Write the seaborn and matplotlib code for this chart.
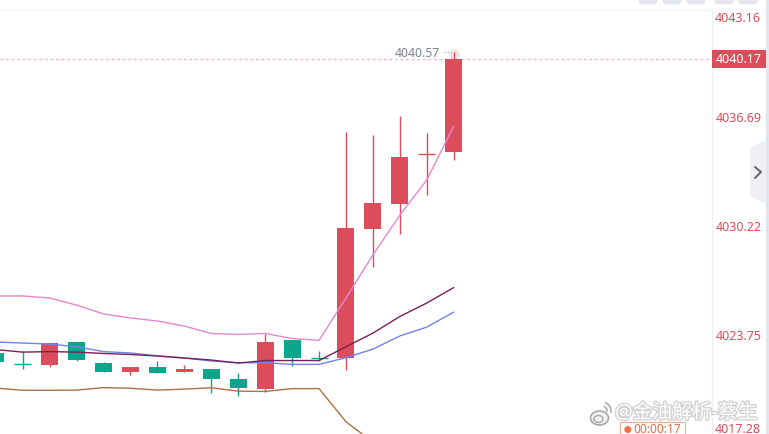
import matplotlib
matplotlib.use("Agg")
import matplotlib.pyplot as plt
import matplotlib.patheffects as pe
from matplotlib.patches import Rectangle, Polygon, FancyBboxPatch, Ellipse, Arc, Circle
import numpy as np
import pandas as pd
import seaborn as sns

# OHLC prices, oldest candle first
opens = [4022.13, 4021.99, 4021.97, 4023.32, 4022.07, 4021.53, 4021.83, 4021.53,
         4021.71, 4021.12, 4020.52, 4023.44, 4022.35, 4022.37, 4030.04, 4031.55,
         4034.49, 4034.64]
closes = [4022.67, 4021.99, 4023.26, 4022.25, 4021.53, 4021.83, 4021.47, 4021.71,
          4021.12, 4020.58, 4023.32, 4022.37, 4022.35, 4030.10, 4031.59, 4034.33,
          4034.49, 4040.17]
highs = [4022.67, 4022.78, 4023.26, 4023.32, 4022.13, 4021.83, 4022.22, 4021.95,
         4021.71, 4021.47, 4023.80, 4023.44, 4022.78, 4035.81, 4035.63, 4036.76,
         4035.75, 4040.57]
lows = [4022.13, 4021.73, 4021.85, 4022.19, 4021.53, 4021.36, 4021.47, 4021.53,
        4020.29, 4020.11, 4020.36, 4021.89, 4022.19, 4021.65, 4027.78, 4029.74,
        4032.06, 4034.15]
bearish = [True, True, False, True, True, False, True, False,
           True, True, False, True, True, False, False, False,
           False, False]

# Indicator overlays
upper_band = [4026.06, 4026.06, 4025.94, 4025.52, 4024.99, 4024.75, 4024.57, 4024.27,
              4023.83, 4023.77, 4023.83, 4023.53, 4023.42, 4025.94, 4028.50, 4030.87,
              4032.96, 4036.17]
fast_avg = [4023.32, 4023.26, 4023.20, 4023.04, 4022.75, 4022.67, 4022.50, 4022.37,
            4022.19, 4022.09, 4022.09, 4021.99, 4021.99, 4022.39, 4022.90, 4023.68,
            4024.21, 4025.10]
mid_band = [4022.87, 4022.72, 4022.75, 4022.72, 4022.64, 4022.58, 4022.49, 4022.37,
            4022.25, 4022.07, 4022.22, 4022.22, 4022.22, 4023.04, 4023.85, 4024.84,
            4025.64, 4026.56]
lower_band = [4020.58, 4020.45, 4020.45, 4020.46, 4020.61, 4020.57, 4020.46, 4020.52,
              4020.60, 4020.40, 4020.38, 4020.55, 4020.55, 4018.58, 4017.37]

visible_ticks = [4036.69, 4030.22, 4023.75]
top_tick = "4043.16"
bottom_tick = "4017.28"
last_price = 4040.17
peak_price = 4040.57

RED = "#DC4D5B"
GREEN = "#08A78B"
TICK_FONT = "Noto Sans"

sns.set_theme(style="white")
plt.rcParams["font.family"] = [TICK_FONT, "Noto Sans CJK SC", "DejaVu Sans"]

W, H = 769, 434
fig = plt.figure(figsize=(W / 100, H / 100), dpi=100, facecolor="white")
ax = fig.add_axes([0, 0, 711.5 / W, 424 / H])
ax.set_facecolor("white")

index = np.arange(len(opens))
candles = pd.DataFrame({"i": index, "o": opens, "c": closes, "h": highs, "l": lows,
                        "down": bearish})

# Candles: wicks first, bodies over them, flat candles as a single dash
for row in candles.itertuples():
    colour = GREEN if row.down else RED
    ax.vlines(row.i, row.l, row.h, color=colour, lw=1.0, zorder=2)
    if row.o == row.c:
        ax.hlines(row.c, row.i - 0.315, row.i + 0.315, color=colour, lw=1.0, zorder=3)
    else:
        ax.bar(row.i, abs(row.c - row.o), bottom=min(row.o, row.c), width=0.63,
               color=colour, linewidth=0, zorder=3)

# Indicator lines
overlays = [(upper_band, "#E487CF"), (fast_avg, "#6F83EE"),
            (mid_band, "#7A2152"), (lower_band, "#B26F45")]
for values, colour in overlays:
    sns.lineplot(x=index[:len(values)], y=values, ax=ax, color=colour, lw=1.0,
                 zorder=4, legend=False)

# Last-price guide
ax.axhline(last_price, color="#F7B5C4", lw=1.0, ls=(0, (2, 2)), zorder=1)

ax.set_xlim(0.156, 26.57)
ax.set_ylim(4017.85, 4043.07)
ax.set_xticks([])
ax.yaxis.tick_right()
ax.set_yticks(visible_ticks)
ax.set_yticklabels([f"{v:.2f}" for v in visible_ticks], color=RED, fontsize=9)
ax.tick_params(axis="y", length=0, pad=3.2)
for side in ("left", "bottom", "top"):
    ax.spines[side].set_visible(False)
ax.spines["right"].set_color("#EEF0F6")
ax.spines["right"].set_linewidth(1.0)

# Peak annotation on the last candle
ax.annotate(f"{peak_price:.2f}", xy=(16.5, peak_price), xytext=(0, -1.4),
            textcoords="offset points", ha="right", va="center",
            fontsize=8.8, color="#7C8290", zorder=6)
ax.scatter([17], [peak_price - 0.1], s=60, color="#F6C6CC", alpha=0.55, linewidths=0, zorder=1)

# Terminal chrome drawn in pixel coordinates
ui = fig.add_axes([0, 0, 1, 1], facecolor="none")
ui.set_xlim(0, W)
ui.set_ylim(H, 0)
ui.axis("off")

ui.plot([0, 711], [10, 10], color="#F6F6F8", lw=1.0)
ui.plot([443.5, 451], [52, 52], color="#B4B8C2", lw=1.0, ls=(0, (1, 1.2)))
ui.add_patch(Rectangle((766, 0), 3, H, color="#E2E5EC", lw=0))
for left in (638, 662, 686, 714, 738):
    ui.add_patch(FancyBboxPatch((left + 2, -6), 16, 9, boxstyle="round,pad=0,rounding_size=2",
                                mutation_aspect=1, fc="#E3E6ED", ec="#E3E6ED", lw=2))

# Side panel toggle
ui.add_patch(Polygon([(750, 148), (766, 140), (766, 204), (750, 196)], closed=True,
                     fc="#EFF0F5", ec="none"))
ui.plot([755, 761, 755], [167, 172, 178], color="#5F6670", lw=1.4)

# Price scale extras
ui.text(738, 18, top_tick, ha="center", va="center", fontsize=9, color=RED)
ui.text(738, 429.2, bottom_tick, ha="center", va="center", fontsize=9, color=RED)
ui.add_patch(Rectangle((712, 50), 54, 18, color=RED, lw=0))
ui.text(738.5, 59.3, f"{last_price:.2f}", ha="center", va="center", fontsize=9,
        color="white", fontweight="bold")

# Countdown badge
ui.add_patch(Rectangle((619.5, 422), 65.5, 14, fc="white", ec="#F3A98F", lw=0.8))
ui.add_patch(Circle((627.8, 429.5), 3.5, color="#F0703F", lw=0))
ui.text(657, 429.2, "00:00:17", ha="center", va="center", fontsize=8.6, color="#EE6A3F")

# Watermark
halo = [pe.withStroke(linewidth=2.0, foreground="#A9A9A9", alpha=0.5)]
ui.text(615, 413.2, "@金油解析-蔡生", ha="left", va="center", fontsize=14.2, color="white",
        path_effects=halo, zorder=8)
ui.add_patch(Ellipse((599.5, 418), 18, 14, fc="#F2F2F2", ec="#A8A8A8", lw=1.2, zorder=7))
ui.add_patch(Ellipse((598.5, 419), 9, 7, fc="none", ec="#A8A8A8", lw=1.0, zorder=7))
ui.add_patch(Arc((602, 411), 10, 10, theta1=-70, theta2=10, ec="#B5B5B5", lw=1.4, zorder=7))
ui.add_patch(Arc((602, 411), 18, 18, theta1=-70, theta2=10, ec="#B5B5B5", lw=1.4, zorder=7))

fig.savefig("out.png", dpi=100, facecolor="white")
